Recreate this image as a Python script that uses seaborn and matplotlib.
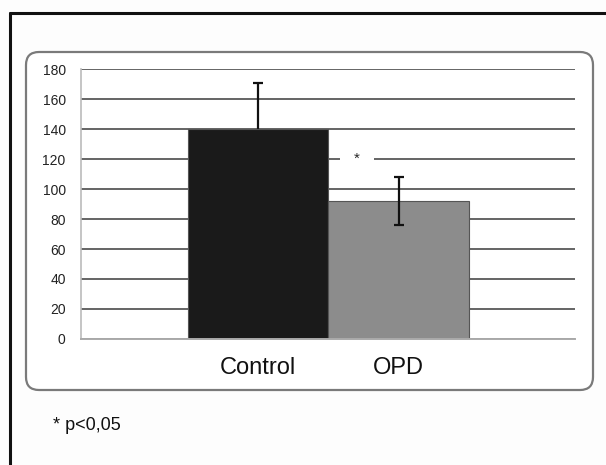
import numpy as np
import pandas as pd
import seaborn as sns
import matplotlib.pyplot as plt
from matplotlib.patches import FancyBboxPatch
from matplotlib.lines import Line2D
from matplotlib.transforms import IdentityTransform

# Data
groups = ['Control', 'OPD']
means = [140, 92]
errors = [31, 16]
bar_colors = ['#1a1a1a', '#8c8c8c']
y_ticks = [0, 20, 40, 60, 80, 100, 120, 140, 160, 180]

df = pd.DataFrame({'Group': groups, 'Value': means})

sns.set_style('white')
plt.rcParams['font.family'] = ['Liberation Sans', 'DejaVu Sans']

fig = plt.figure(figsize=(6.06, 4.65), dpi=100)
fig.patch.set_facecolor('#fdfdfd')

# outer frame (only top and left visible)
fig.add_artist(Line2D([10, 606], [465 - 13, 465 - 13], transform=IdentityTransform(),
                      color='#111111', lw=2.2))
fig.add_artist(Line2D([10, 10], [0, 465 - 13], transform=IdentityTransform(),
                      color='#111111', lw=2.2))

# rounded chart box
box = FancyBboxPatch((26, 465 - 390), 567, 338, boxstyle='round,pad=0,rounding_size=13',
                     transform=IdentityTransform(), facecolor='white', edgecolor='#7a7a7a', lw=1.6)
fig.add_artist(box)

ax = fig.add_axes([81 / 606, 1 - 339 / 465, 494 / 606, 270 / 465])
ax.set_facecolor('white')
ax.set_zorder(2)

sns.barplot(data=df, x='Group', y='Value', hue='Group', palette=bar_colors,
            width=1.0, ax=ax, legend=False, zorder=2)
for patch in ax.patches:
    patch.set_edgecolor('#555555')
    patch.set_linewidth(0.8)

# error bars: the dark bar hides the lower half of its whisker
for i, (m, e) in enumerate(zip(means, errors)):
    z = 1.5 if i == 0 else 3
    ax.errorbar([i], [m], yerr=[e], fmt='none', ecolor='#111111',
                elinewidth=1.6, capsize=3.5, capthick=1.6, zorder=z)

ax.set_ylim(0, 180)
ax.set_xlim(-1.26, 2.256)
ax.set_yticks(y_ticks)
ax.yaxis.grid(True, color='#4a4a4a', lw=1.2, zorder=0)
ax.set_axisbelow(True)
ax.tick_params(axis='y', length=0, pad=11, labelsize=10, labelcolor='#222222')
ax.tick_params(axis='x', length=0, pad=13, labelsize=17, labelcolor='#111111')
ax.set_xlabel('')
ax.set_ylabel('')

for side in ['top', 'right']:
    ax.spines[side].set_visible(False)
ax.spines['left'].set_color('#bbbbbb')
ax.spines['bottom'].set_color('#aaaaaa')
ax.spines['left'].set_linewidth(1.2)
ax.spines['bottom'].set_linewidth(1.4)

# significance marker between the bars
ax.text(0.705, 120, '*', ha='center', va='center', fontsize=11, zorder=4,
        bbox=dict(boxstyle='square,pad=0.9', facecolor='white', edgecolor='none'))

fig.text(53 / 606, 1 - 425 / 465, '* p<0,05', fontsize=13, va='center', ha='left', color='#111111')

fig.savefig('out.png', dpi=100, facecolor=fig.get_facecolor())
